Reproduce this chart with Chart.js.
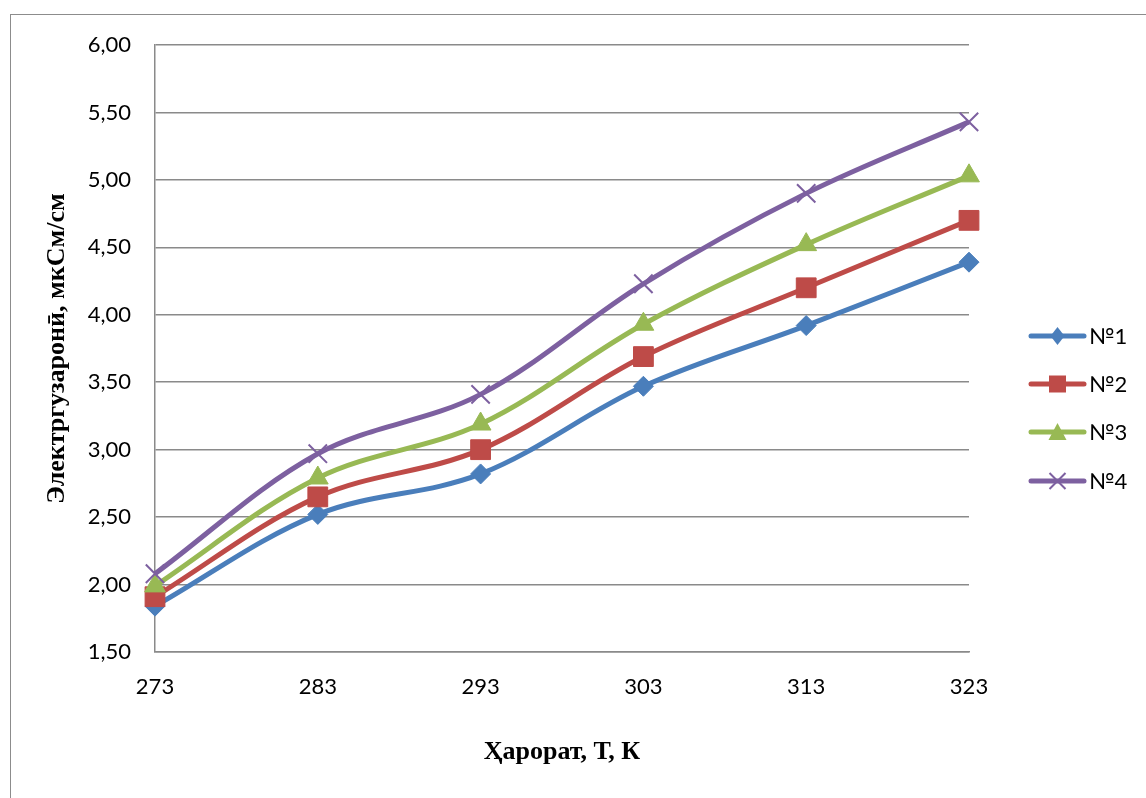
<!DOCTYPE html>
<html>
<head>
<meta charset="utf-8">
<script src="https://cdn.jsdelivr.net/npm/chart.js@4/dist/chart.umd.min.js"></script>
<style>
  html, body { margin: 0; padding: 0; background: #fff; overflow: hidden; }
  #wrap { position: relative; width: 1146px; height: 798px; }
  #frame { position: absolute; left: 10px; top: 14px; width: 1200px; height: 900px;
           border: 1.5px solid #8c8c8c; box-sizing: border-box; }
  canvas { position: absolute; left: 0; top: 0; }
</style>
</head>
<body>
<div id="wrap">
  <div id="frame"></div>
  <canvas id="c" width="1146" height="798"></canvas>
</div>
<script>
// Temperature, K
const temperatures = ['273', '283', '293', '303', '313', '323'];

// Conductivity of each sample, µS/cm
const sample1 = [1.84, 2.52, 2.82, 3.47, 3.92, 4.39];
const sample2 = [1.91, 2.65, 3.00, 3.69, 4.20, 4.70];
const sample3 = [1.99, 2.79, 3.19, 3.93, 4.52, 5.03];
const sample4 = [2.08, 2.97, 3.41, 4.23, 4.90, 5.43];

const seriesNames = ['№1', '№2', '№3', '№4'];
const yTickLabels = ['1,50', '2,00', '2,50', '3,00', '3,50', '4,00', '4,50', '5,00', '5,50', '6,00'];

const colors = ['#4a7ebb', '#be4b48', '#98b954', '#7d60a0'];
const shapes = ['rectRot', 'rect', 'triangle', 'crossRot'];
const radii = [10, 14, 12, 13];

const tickFont = { family: "Lato, 'Noto Sans', sans-serif", size: 22 };
const titleFont = { family: "'Liberation Serif', 'Times New Roman', serif", size: 26, weight: 'bold' };

const values = [sample1, sample2, sample3, sample4];
const datasets = values.map((v, i) => ({
  label: seriesNames[i],
  data: v,
  borderColor: colors[i],
  backgroundColor: colors[i],
  borderWidth: 5,
  tension: 0.35,
  pointStyle: shapes[i],
  pointRadius: radii[i],
  pointHoverRadius: radii[i],
  pointBorderWidth: i === 3 ? 2 : 1,
  pointBackgroundColor: colors[i],
  pointBorderColor: colors[i],
  order: values.length - i
}));

// Legend at the right: a short line with the series marker in its middle
const sideLegend = {
  id: 'sideLegend',
  afterDraw(chart) {
    const ctx = chart.ctx;
    const x0 = 1031, x1 = 1084, mx = (x0 + x1) / 2;
    const ys = [336, 384, 432, 481];
    chart.data.datasets.forEach((ds, i) => {
      const y = ys[i];
      ctx.save();
      ctx.strokeStyle = ds.borderColor;
      ctx.lineWidth = 5;
      ctx.lineCap = 'round';
      ctx.beginPath(); ctx.moveTo(x0, y); ctx.lineTo(x1, y); ctx.stroke();
      ctx.fillStyle = ds.borderColor;
      ctx.beginPath();
      if (i === 0) {
        ctx.moveTo(mx, y - 9); ctx.lineTo(mx + 7, y); ctx.lineTo(mx, y + 9); ctx.lineTo(mx - 7, y); ctx.closePath(); ctx.fill();
      } else if (i === 1) {
        ctx.rect(mx - 8.5, y - 8.5, 17, 17); ctx.fill();
      } else if (i === 2) {
        ctx.moveTo(mx, y - 9); ctx.lineTo(mx + 9, y + 8); ctx.lineTo(mx - 9, y + 8); ctx.closePath(); ctx.fill();
      } else {
        ctx.lineWidth = 2;
        ctx.lineCap = 'butt';
        ctx.moveTo(mx - 8, y - 8); ctx.lineTo(mx + 8, y + 8);
        ctx.moveTo(mx + 8, y - 8); ctx.lineTo(mx - 8, y + 8);
        ctx.stroke();
      }
      ctx.fillStyle = '#000';
      ctx.font = `${tickFont.size}px ${tickFont.family}`;
      ctx.textBaseline = 'middle';
      ctx.textAlign = 'left';
      ctx.fillText(ds.label, x1 + 5, y + 1);
      ctx.restore();
    });
  }
};

new Chart(document.getElementById('c'), {
  type: 'line',
  data: { labels: temperatures, datasets },
  options: {
    responsive: false,
    devicePixelRatio: 1,
    animation: false,
    layout: { padding: { left: 0, top: 45, right: 177, bottom: 0 } },
    plugins: { legend: { display: false }, tooltip: { enabled: false } },
    scales: {
      x: {
        offset: false,
        grid: { display: false, drawTicks: false },
        border: { display: true, color: '#8a8a8a', width: 1.5 },
        ticks: { color: '#000', font: tickFont, padding: 22, maxRotation: 0, autoSkip: false },
        title: { display: true, text: 'Ҳарорат, Т, К', color: '#000', font: titleFont, padding: { top: 0, bottom: 30 } },
        afterFit(scale) { scale.height = 146; }
      },
      y: {
        min: 1.5,
        max: 6,
        grid: { color: '#8a8a8a', lineWidth: 1.5, drawTicks: false },
        border: { display: true, color: '#8a8a8a', width: 1.5 },
        ticks: {
          stepSize: 0.5,
          color: '#000',
          font: tickFont,
          padding: 24,
          callback: (v, i) => yTickLabels[i]
        },
        title: { display: true, text: 'Электргузаронӣ, мкСм/см', color: '#000', font: titleFont, padding: { top: 42, bottom: 0 } },
        afterFit(scale) { scale.width = 155; }
      }
    }
  },
  plugins: [sideLegend]
});
</script>
</body>
</html>
